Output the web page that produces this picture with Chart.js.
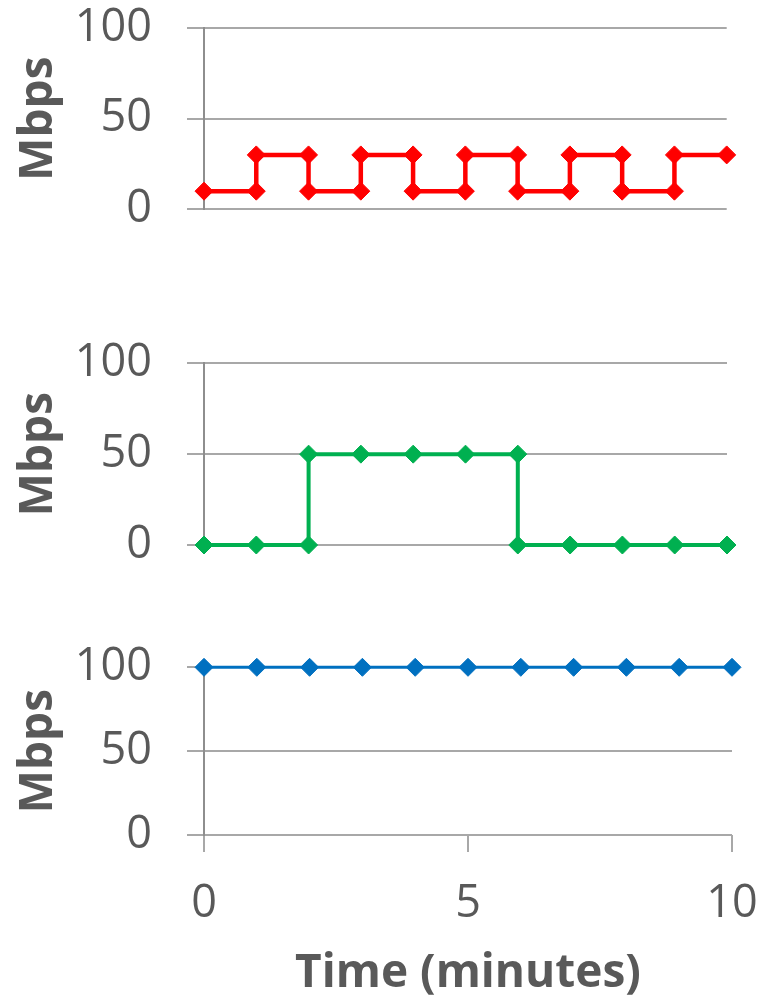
<!DOCTYPE html>
<html lang="en">
<head>
  <meta charset="UTF-8" />
  <title>Mbps over time</title>
  <script src="https://cdn.jsdelivr.net/npm/chart.js"></script>
  <style>
    body {
      margin: 0;
      background: #fff;
      width: 761px;
      height: 1001px;
      position: relative;
      overflow: hidden;
    }
    .panel {
      position: absolute;
      left: 0;
      width: 761px;
    }
  </style>
</head>
<body>
  <div class="panel" id="p1" style="top:0;height:250px"><canvas id="c1"></canvas></div>
  <div class="panel" id="p2" style="top:320px;height:250px"><canvas id="c2"></canvas></div>
  <div class="panel" id="p3" style="top:620px;height:381px"><canvas id="c3"></canvas></div>

  <script>
    // data
    const redX = [0, 1, 1, 2, 2, 3, 3, 4, 4, 5, 5, 6, 6, 7, 7, 8, 8, 9, 9, 10];
    const redY = [10, 10, 30, 30, 10, 10, 30, 30, 10, 10, 30, 30, 10, 10, 30, 30, 10, 10, 30, 30];
    const greenX = [0, 1, 2, 2, 3, 4, 5, 6, 6, 7, 8, 9, 10];
    const greenY = [0, 0, 0, 50, 50, 50, 50, 50, 0, 0, 0, 0, 0];
    const blueX = [0, 1, 2, 3, 4, 5, 6, 7, 8, 9, 10];
    const blueY = [100, 100, 100, 100, 100, 100, 100, 100, 100, 100, 100];
    const yTicks = [0, 50, 100];
    const xTicks = [0, 5, 10];
    const yTitle = 'Mbps';
    const xTitle = 'Time (minutes)';

    const textColor = '#595959';
    const gridColor = '#A8A8A8';

    function pts(xs, ys) {
      return xs.map((x, i) => ({ x: x, y: ys[i] }));
    }

    function makeChart(id, xs, ys, color, lineW, pad, showX) {
      return new Chart(document.getElementById(id), {
        type: 'line',
        data: {
          datasets: [{
            data: pts(xs, ys),
            borderColor: color,
            backgroundColor: color,
            borderWidth: lineW,
            pointStyle: 'rectRot',
            pointRadius: 9,
            pointBorderWidth: 1,
            pointBorderColor: color,
            pointBackgroundColor: color,
            tension: 0,
            clip: false
          }]
        },
        options: {
          responsive: true,
          maintainAspectRatio: false,
          animation: false,
          layout: { padding: pad },
          plugins: { legend: { display: false }, tooltip: { enabled: false } },
          scales: {
            x: {
              type: 'linear',
              display: showX,
              min: 0,
              max: 10,
              afterBuildTicks: s => { s.ticks = xTicks.map(v => ({ value: v })); },
              afterFit: s => {
                if (showX) s.height = 166;
                s.paddingLeft = 0;
                s.paddingRight = 0;
              },
              grid: {
                drawOnChartArea: false,
                drawTicks: true,
                tickLength: 17,
                color: gridColor,
                lineWidth: 2
              },
              border: { display: false },
              ticks: {
                color: textColor,
                padding: 25,
                maxRotation: 0,
                font: { family: 'Open Sans', size: 45 }
              },
              title: {
                display: showX,
                text: xTitle,
                color: textColor,
                padding: { top: 0, bottom: 0 },
                font: { family: 'Open Sans', size: 46, weight: 'bold' }
              }
            },
            y: {
              min: 0,
              max: 100,
              afterBuildTicks: s => { s.ticks = yTicks.map(v => ({ value: v })); },
              afterFit: s => {
                s.width = 204;
                s.paddingTop = 0;
                s.paddingBottom = 0;
              },
              grid: {
                color: gridColor,
                lineWidth: 2,
                tickLength: 17
              },
              border: { display: true, color: '#8E8E8E', width: 2 },
              ticks: {
                color: textColor,
                padding: 35,
                font: { family: 'Open Sans', size: 45 }
              },
              title: {
                display: true,
                text: yTitle,
                color: textColor,
                padding: { top: 11, bottom: 0 },
                font: { family: 'Open Sans', size: 46, weight: 'bold' }
              }
            }
          }
        }
      });
    }

    makeChart('c1', redX, redY, '#FF0000', 4.5, { top: 28, bottom: 40.7, left: 0, right: 34.3 }, false);
    makeChart('c2', greenX, greenY, '#00B050', 4, { top: 43.3, bottom: 25, left: 0, right: 34 }, false);
    makeChart('c3', blueX, blueY, '#0070C0', 3, { top: 47.3, bottom: 0, left: 0, right: 29 }, true);
  </script>
</body>
</html>
